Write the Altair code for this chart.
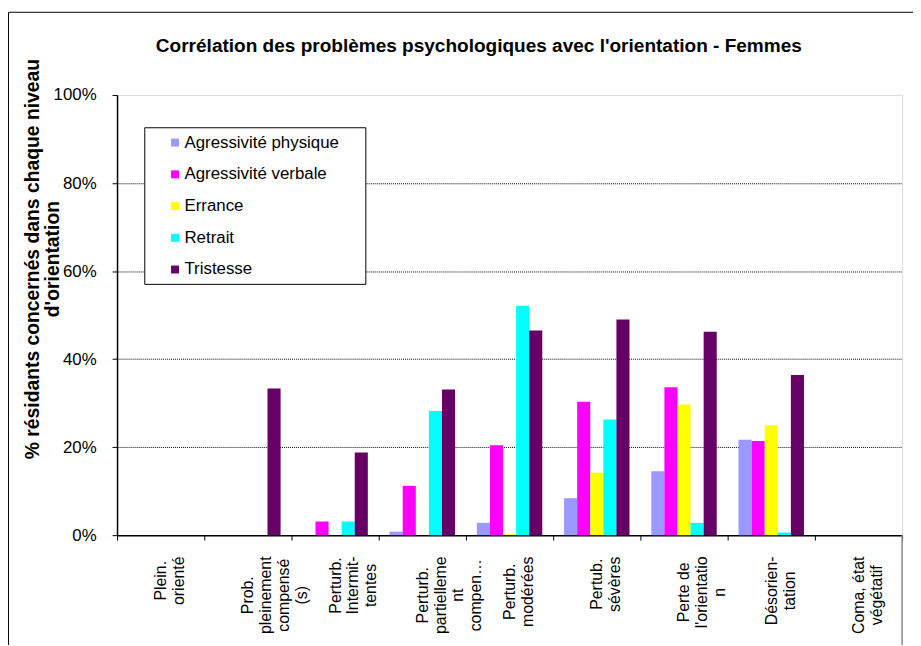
import json
import altair as alt
import pandas as pd

# ---- data ----
categories = [
    "Plein.\norienté",
    "Prob.\npleinement\ncompensé\n(s)",
    "Perturb.\nIntermit-\ntentes",
    "Perturb.\npartielleme\nnt\ncompen…",
    "Perturb.\nmodérées",
    "Pertub.\nsévères",
    "Perte de\nl'orientatio\nn",
    "Désorien-\ntation",
    "Coma, état\nvégétatif",
]
series = ["Agressivité physique", "Agressivité verbale", "Errance", "Retrait", "Tristesse"]
agressivite_physique = [0.0, 0.0, 0.0, 0.8, 2.8, 8.4, 14.5, 21.7, 0.0]
agressivite_verbale = [0.0, 0.0, 3.1, 11.2, 20.4, 30.3, 33.6, 21.4, 0.0]
errance = [0.0, 0.0, 0.0, 0.0, 0.2, 14.2, 29.7, 25.0, 0.0]
retrait = [0.0, 0.0, 3.1, 28.2, 52.1, 26.3, 2.8, 0.6, 0.0]
tristesse = [0.0, 33.3, 18.8, 33.1, 46.5, 49.0, 46.2, 36.4, 0.0]
colors = ["#9999FF", "#FF00FF", "#FFFF00", "#00FFFF", "#660066"]

values = [agressivite_physique, agressivite_verbale, errance, retrait, tristesse]
rows = []
for s, vals in zip(series, values):
    for c, v in zip(categories, vals):
        rows.append({"cat": c, "serie": s, "val": v / 100.0})
df = pd.DataFrame(rows)

FONT = "Liberation Sans"

# ---- label placement: each rotated label block starts just below the ticks ----
ARIAL = {"a": .556, "b": .556, "c": .5, "d": .556, "e": .556, "é": .556, "è": .556, "f": .278,
         "g": .556, "h": .556, "i": .222, "l": .222, "m": .833, "n": .556, "o": .556, "p": .556,
         "q": .556, "r": .333, "s": .5, "t": .278, "u": .556, "v": .5, "y": .5, " ": .278,
         ".": .278, ",": .278, "-": .333, "'": .191, "(": .333, ")": .333, "…": 1.0,
         "C": .722, "D": .722, "I": .278, "P": .667}
XFS = 16


def line_w(t):
    return sum(ARIAL.get(ch, .556) for ch in t) * XFS


pad_cond = []
for c in categories:
    longest = max(line_w(l) for l in c.split("\n"))
    pad_cond.append({"test": "datum.value === " + json.dumps(c, ensure_ascii=False),
                     "value": round(16 + longest / 2, 1)})

# legend frame (drawn under the legend, covering the grid)
legend_box = alt.Chart(pd.DataFrame({"k": [0]})).mark_rect(
    fill="white", stroke="black", strokeWidth=1
).encode(x=alt.value(28), x2=alt.value(251), y=alt.value(33), y2=alt.value(191))

bars = alt.Chart(df).mark_bar().encode(
    x=alt.X("cat:N", sort=categories, title=None,
            scale=alt.Scale(paddingInner=0, paddingOuter=0),
            axis=alt.Axis(
                labelAngle=270, labelAlign="center", labelBaseline="middle",
                labelExpr="split(datum.label, '\\n')",
                labelFont=FONT, labelFontSize=XFS, labelLineHeight=18, labelColor="black",
                labelPadding={"condition": pad_cond, "value": 40},
                tickBand="extent", tickSize=5, tickColor="black", ticks=True,
                domainColor="black", domainWidth=1.5, grid=False, labelLimit=300,
            )),
    xOffset=alt.XOffset("serie:N", sort=series,
                        scale=alt.Scale(paddingInner=0, paddingOuter=0.833)),
    y=alt.Y("val:Q", scale=alt.Scale(domain=[0, 1], nice=False),
            axis=alt.Axis(
                values=[0, 0.2, 0.4, 0.6, 0.8, 1.0], format=".0%",
                title=["% résidants concernés dans chaque niveau", "d'orientation"],
                titleFont=FONT, titleFontSize=19.5, titleFontWeight="bold", titleColor="black",
                titleAngle=270, titleAlign="center", titleBaseline="middle",
                titleLineHeight=20, titleX=-85, titleY=165,
                labelFont=FONT, labelFontSize=17, labelColor="black", labelPadding=16,
                tickSize=5, tickColor="black", domainColor="black", domainWidth=1.5,
                grid=True, gridColor="black", gridDash=[1, 1], gridWidth=1,
                gridOpacity={"condition": {"test": "datum.value >= 1 || datum.value <= 0", "value": 0},
                             "value": 1},
            )),
    color=alt.Color("serie:N", sort=series, scale=alt.Scale(domain=series, range=colors),
                    legend=alt.Legend(
                        title=None, orient="none", legendX=28, legendY=32.5,
                        strokeColor="transparent", fillColor="transparent", padding=7,
                        symbolType="square", symbolSize=64, symbolStrokeWidth=0,
                        symbolOffset=15, labelOffset=1,
                        labelFont=FONT, labelFontSize=17, labelColor="black",
                        rowPadding=14, labelLimit=400,
                    )),
)

frame_df = pd.DataFrame({"k": [0]})
frame_v = alt.Chart(frame_df).mark_rule(color="black", strokeWidth=1).encode(
    x=alt.value(-109.5), y=alt.value(-83.5), y2=alt.value(560))
frame_h = alt.Chart(frame_df).mark_rule(color="black", strokeWidth=1).encode(
    x=alt.value(-109.5), x2=alt.value(810), y=alt.value(-83.5))
frame_r = alt.Chart(frame_df).mark_rule(color="#888888", strokeWidth=1.5).encode(
    x=alt.value(792), y=alt.value(444), y2=alt.value(560))

chart = alt.layer(legend_box, bars, frame_v, frame_h, frame_r).properties(
    width=792, height=444,
    autosize=alt.AutoSizeParams(type="none"),
    padding={"left": 110, "top": 85, "right": 11, "bottom": 108},
    title=alt.TitleParams(
        "Corrélation des problèmes psychologiques avec l'orientation - Femmes",
        font=FONT, fontSize=19.2, fontWeight="bold", color="black",
        anchor="middle", dx=-31, offset=-60, baseline="alphabetic",
    ),
).configure_view(stroke="#888888", strokeWidth=1.5).configure(background="white")

chart.save("out.html", embed_options={"renderer": "svg", "actions": False})
